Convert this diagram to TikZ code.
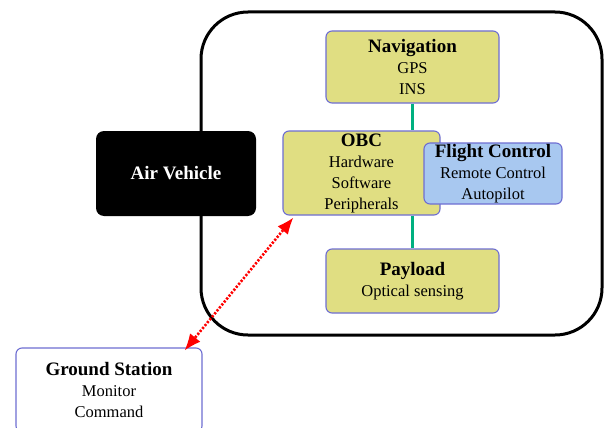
\documentclass[tikz,border=0pt]{standalone}
\usepackage{fontspec}
\setmainfont{Liberation Serif}
\usetikzlibrary{arrows.meta}
\definecolor{boxyellow}{RGB}{224,222,130}
\definecolor{boxblue}{RGB}{168,200,240}
\definecolor{boxedge}{RGB}{110,110,210}
\definecolor{linkgreen}{RGB}{0,176,128}
\tikzset{
  unit/.style={draw=boxedge, line width=1.1pt, rounded corners=6pt, align=center,
    inner sep=0pt, font=\fontsize{16.5}{21}\selectfont},
  yellowbox/.style={unit, fill=boxyellow},
  bluebox/.style={unit, fill=boxblue},
  link/.style={draw=linkgreen, line width=2.4pt},
  radio/.style={draw=red, line width=2.6pt, dash pattern=on 2.2pt off 1.6pt,
    {Latex[length=16pt,width=13pt,line width=0pt]}-{Latex[length=16pt,width=13pt,line width=0pt]}},
}
\newcommand{\ttl}[1]{{\bfseries\fontsize{19}{21}\selectfont #1}}
\begin{document}
\begin{tikzpicture}[x=1pt,y=-1pt]
  \useasboundingbox (0,0) rectangle (605,428);
  \clip (0,0) rectangle (605,428);
  \fill[white] (0,0) rectangle (605,428);

  % vehicle outline
  \draw[line width=3pt, rounded corners=47pt] (201,12) rectangle (602,335);

  % air vehicle label block
  \node[fill=black, rounded corners=8pt, minimum width=160pt, minimum height=85pt,
        text=white, font=\bfseries\fontsize{19}{21}\selectfont] (av) at (176,173.5) {Air Vehicle};

  % on-board subsystems
  \node[yellowbox, minimum width=173pt, minimum height=72pt] (nav) at (412.5,67)
    {\ttl{Navigation}\\GPS\\INS};
  \node[yellowbox, minimum width=157pt, minimum height=84pt] (obc) at (361.5,173)
    {\ttl{OBC}\\Hardware\\Software\\Peripherals};
  \node[bluebox, minimum width=138pt, minimum height=61pt] (fc) at (493,173.5)
    {\ttl{Flight Control}\\Remote Control\\Autopilot};
  \node[yellowbox, minimum width=173pt, minimum height=64pt] (pay) at (412.5,281)
    {\ttl{Payload}\\Optical sensing};

  \draw[link] (nav.south) -- (nav.south |- obc.north);
  \draw[link] (pay.north |- obc.south) -- (pay.north);

  % ground segment
  \node[unit, fill=white, minimum width=186pt, minimum height=84pt] (gs) at (109,390)
    {\ttl{Ground Station}\\Monitor\\Command};

  % radio link
  \coordinate (upl) at (293,218);
  \coordinate (dnl) at (185,350);
  \draw[radio] (dnl) -- (upl);
\end{tikzpicture}
\end{document}
